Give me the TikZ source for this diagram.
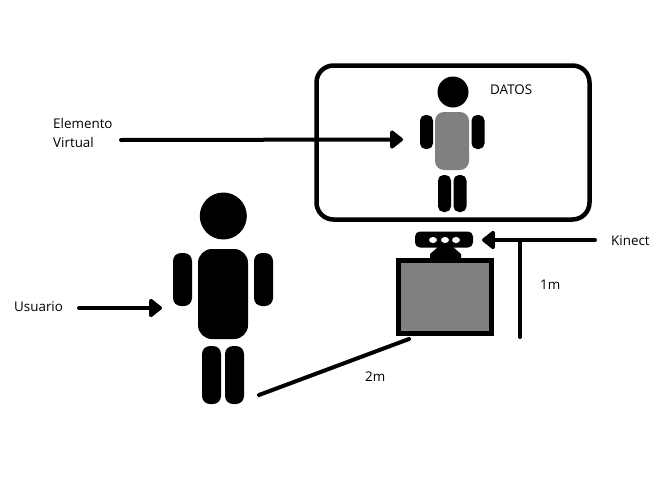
\documentclass[tikz,border=0pt]{standalone}
\usepackage{fontspec}
\setmainfont{Open Sans}
\usetikzlibrary{arrows.meta,shapes.geometric}
\definecolor{midgray}{HTML}{808080}
\tikzset{
  x=1pt,y=-1pt,
  part/.style={draw=none,fill=black,inner sep=0pt,outer sep=0pt},
  limbbig/.style={part,rounded corners=8pt,minimum width=19pt,minimum height=#1},
  limbsmall/.style={part,rounded corners=5.5pt,minimum width=13pt,minimum height=#1},
  headnode/.style={part,circle,minimum size=#1},
  label/.style={inner sep=0pt,font=\fontsize{13.4}{15}\selectfont,text=black,anchor=west},
  conn/.style={line width=4pt,line cap=round,draw=black},
  arrowconn/.style={conn,-{Triangle[length=14pt,width=21pt,round,sep=0pt]},line join=round},
}
\begin{document}
\begin{tikzpicture}
\useasboundingbox (0,0) rectangle (664,490);
\fill[white] (0,0) rectangle (664,490);

% screen
\node[draw=black,line width=4.5pt,rounded corners=17pt,minimum width=273pt,minimum height=154pt,inner sep=0pt] (screen) at (453,142.5) {};
\node[label] (datos) at (490,90) {DATOS};

% virtual person
\node[headnode=31pt] (vhead) at (453,92) {};
\node[part,fill=midgray,rounded corners=9pt,minimum width=34pt,minimum height=58pt] (vtorso) at (452,141) {};
\node[limbsmall=34pt] (varml) at (426.5,132) {};
\node[limbsmall=34pt] (varmr) at (478,132) {};
\node[limbsmall=37pt] (vlegl) at (444.5,193.5) {};
\node[limbsmall=37pt] (vlegr) at (460,193.5) {};

% user
\node[headnode=47pt] (uhead) at (223.3,216) {};
\node[part,rounded corners=14pt,minimum width=50pt,minimum height=90pt] (utorso) at (223,294) {};
\node[limbbig=53pt] (uarml) at (182.5,279.5) {};
\node[limbbig=53pt] (uarmr) at (263.5,279.5) {};
\node[limbbig=58pt] (ulegl) at (211.5,375) {};
\node[limbbig=58pt] (ulegr) at (234.5,375) {};

% kinect
\fill[black] (430,258.5) -- (430,254) -- (438,247) -- (453,247) -- (461,254) -- (461,258.5) -- cycle;
\node[part,rounded corners=5pt,minimum width=58pt,minimum height=16pt] (kinect) at (444,239.5) {};
\foreach \n/\cx in {ka/433,kb/445,kc/456}
  \node[part,fill=white,ellipse,minimum width=8pt,minimum height=6pt] (\n) at (\cx,240) {};

% tv
\node[draw=black,fill=midgray,line width=5pt,minimum width=93pt,minimum height=73pt,inner sep=0pt] (tv) at (445,297) {};

% labels
\node[label] (elem) at (53,123) {Elemento};
\node[label] (virt) at (53,142) {Virtual};
\node[label] (usu) at (14,306.5) {Usuario};
\node[label] (kin) at (611,241) {Kinect};
\node[label] (onem) at (540,285) {1m};
\node[label] (twom) at (365,377) {2m};

% connector ends
\coordinate (elemS) at (121,140);
\coordinate (elemT) at (403,139.5);
\coordinate (usuS) at (79,308);
\coordinate (usuT) at (162,308);
\coordinate (kinS) at (595,240);
\coordinate (kinT) at (482,240);
\coordinate (vt) at (520,240);
\coordinate (vb) at (520,337);
\coordinate (dS) at (259,395);
\coordinate (dT) at (409,339);

\draw[arrowconn] (elemS) -- (elemT);
\draw[arrowconn] (usuS) -- (usuT);
\draw[arrowconn] (kinS) -- (kinT);
\draw[conn] (vt) -- (vb);
\draw[conn] (dS) -- (dT);
\end{tikzpicture}
\end{document}
